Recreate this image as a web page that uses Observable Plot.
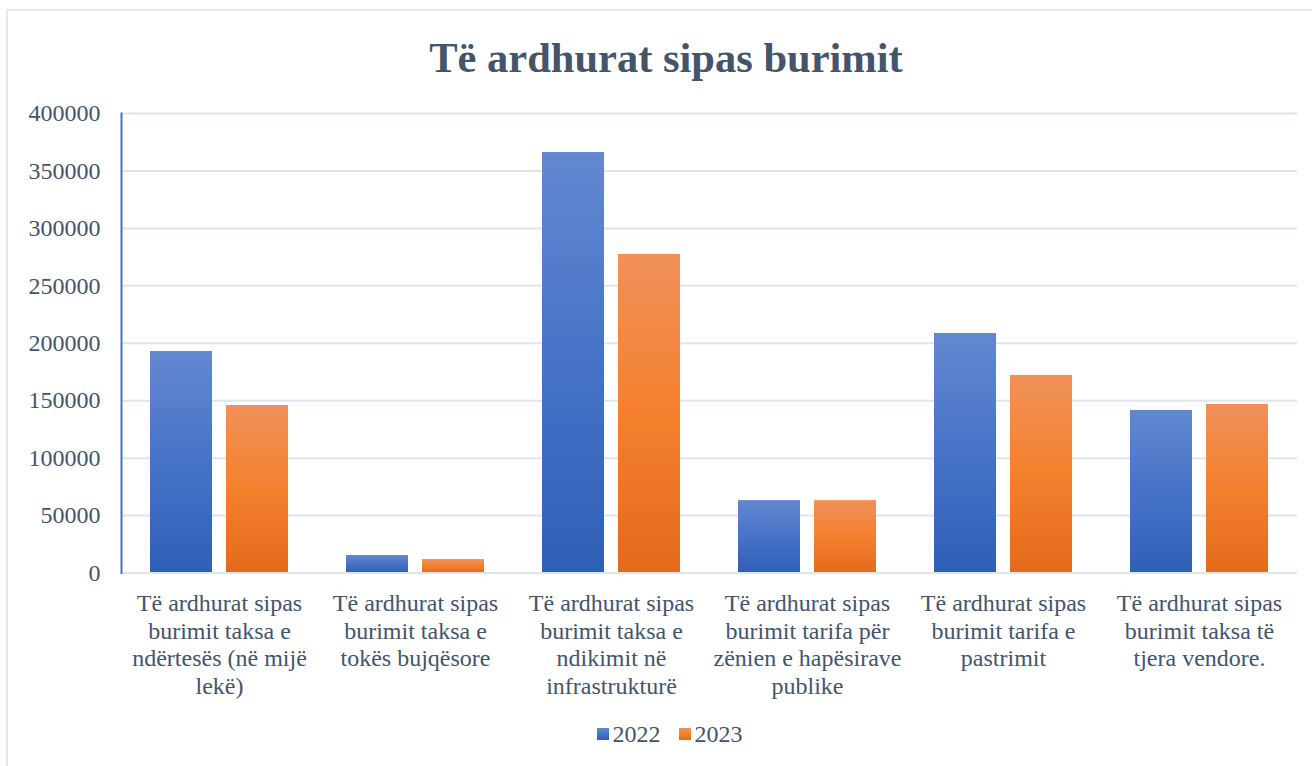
<!DOCTYPE html>
<html>
<head>
<meta charset="utf-8">
<script src="https://cdn.jsdelivr.net/npm/d3@7"></script>
<script src="https://cdn.jsdelivr.net/npm/@observablehq/plot@0.6"></script>
<style>
  html, body { margin: 0; padding: 0; background: #ffffff; overflow: hidden; }
  body { position: relative; width: 1312px; height: 766px; font-family: "Liberation Serif", "Times New Roman", serif; }
  #frame { position: absolute; left: 6px; top: 9px; width: 1320px; height: 770px; border: 2px solid #e3e6ec; box-sizing: border-box; }
  #title { position: absolute; left: 666px; top: 36px; transform: translateX(-50%); white-space: nowrap;
           font-size: 42.5px; line-height: 43px; font-weight: bold; color: #44546A; }
  #chart { position: absolute; left: 0; top: 90px; }
  #chart svg, #chart svg text { font-family: "Liberation Serif", "Times New Roman", serif !important; }
  #legend { position: absolute; left: 669.5px; top: 722px; height: 24px; transform: translateX(-50%);
            display: flex; align-items: center; font-size: 24px; line-height: 24px; color: #44546A; white-space: nowrap; }
  .sw { display: inline-block; width: 12px; height: 12px; margin-right: 4px; }
  .item { display: flex; align-items: center; margin-right: 18px; }
  .item:last-child { margin-right: 0; }
</style>
</head>
<body>
<div id="frame"></div>
<div id="title"></div>
<div id="chart"></div>
<div id="legend"></div>
<script>
const titleText = "Të ardhurat sipas burimit";
const years = ["2022", "2023"];
const categories = [
  "Të ardhurat sipas burimit taksa e ndërtesës (në mijë lekë)",
  "Të ardhurat sipas burimit taksa e tokës bujqësore",
  "Të ardhurat sipas burimit taksa e ndikimit në infrastrukturë",
  "Të ardhurat sipas burimit tarifa për zënien e hapësirave publike",
  "Të ardhurat sipas burimit tarifa e pastrimit",
  "Të ardhurat sipas burimit taksa të tjera vendore."
];
const categoryLabels = [
  "Të ardhurat sipas\nburimit taksa e\nndërtesës (në mijë\nlekë)",
  "Të ardhurat sipas\nburimit taksa e\ntokës bujqësore",
  "Të ardhurat sipas\nburimit taksa e\nndikimit në\ninfrastrukturë",
  "Të ardhurat sipas\nburimit tarifa për\nzënien e hapësirave\npublike",
  "Të ardhurat sipas\nburimit tarifa e\npastrimit",
  "Të ardhurat sipas\nburimit taksa të\ntjera vendore."
];
const values2022 = [192800, 15200, 366000, 63000, 208500, 141500];
const values2023 = [145800, 11700, 277300, 63000, 172000, 146700];
const yTicks = [0, 50000, 100000, 150000, 200000, 250000, 300000, 350000, 400000];

const rows = [];
categories.forEach((c, i) => {
  rows.push({cat: c, year: years[0], value: values2022[i]});
  rows.push({cat: c, year: years[1], value: values2023[i]});
});
const labelOf = new Map(categories.map((c, i) => [c, categoryLabels[i]]));

const textColor = "#44546A";
const gridColor = "#e0e4eb";
const serif = "'Liberation Serif', 'Times New Roman', serif";

const plot = Plot.plot({
  width: 1312,
  height: 620,
  marginLeft: 120,
  marginRight: 14,
  marginTop: 23,
  marginBottom: 137.5,
  style: {fontFamily: serif, fontSize: "24px", color: textColor, background: "transparent", overflow: "visible"},
  fx: {domain: categories, padding: 0, label: null, axis: null},
  x: {domain: years, paddingInner: 0.184, paddingOuter: 0.375, axis: null},
  y: {domain: [0, 400000], label: null, axis: null},
  color: {domain: years, range: ["url(#grad2022)", "url(#grad2023)"]},
  marks: [
    Plot.gridY(yTicks, {stroke: gridColor, strokeOpacity: 1, strokeWidth: 2}),
    Plot.barY(rows, {fx: "cat", x: "year", y: "value", fill: "year"}),
    Plot.ruleY([0], {stroke: gridColor, strokeWidth: 2}),
    Plot.frame({anchor: "left", facetAnchor: "left", stroke: "#4472c4", strokeWidth: 2}),
    Plot.axisY(yTicks, {tickSize: 0, tickPadding: 21, tickFormat: d => String(d), fontSize: 24, fontFamily: serif, fill: textColor, label: null}),
    Plot.axisFx({anchor: "bottom", tickSize: 0, tickPadding: 18.5, tickFormat: d => labelOf.get(d), lineHeight: 1.15, fontSize: 24, fontFamily: serif, fill: textColor, label: null})
  ]
});

const defs = d3.select(plot).insert("defs", ":first-child");
function addGrad(id, stops) {
  const g = defs.append("linearGradient").attr("id", id)
    .attr("x1", 0).attr("y1", 0).attr("x2", 0).attr("y2", 1);
  stops.forEach(([o, c]) => g.append("stop").attr("offset", o).attr("stop-color", c));
}
addGrad("grad2022", [[0, "#6288cf"], [0.5, "#4673c8"], [1, "#2f5fb5"]]);
addGrad("grad2023", [[0, "#f0915a"], [0.5, "#f4802e"], [1, "#e26b1b"]]);

document.getElementById("chart").appendChild(plot);
document.getElementById("title").textContent = titleText;

const legendGrad = {
  "2022": "linear-gradient(#6288cf, #4673c8 50%, #2f5fb5)",
  "2023": "linear-gradient(#f0915a, #f4802e 50%, #e26b1b)"
};
const legend = d3.select("#legend");
years.forEach(y => {
  const item = legend.append("div").attr("class", "item");
  item.append("span").attr("class", "sw").style("background", legendGrad[y]);
  item.append("span").text(y);
});
</script>
</body>
</html>
